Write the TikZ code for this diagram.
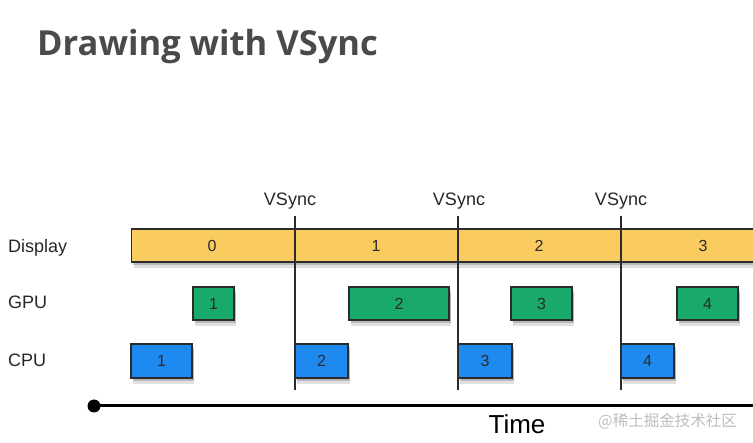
\documentclass[tikz,border=0pt]{standalone}
\usepackage{fontspec}
\setmainfont{Liberation Sans}
\newfontfamily\titlefont{Open Sans}
\newfontfamily\cjk{Noto Sans CJK SC}
\usetikzlibrary{shadows,positioning}
\definecolor{dispfill}{HTML}{FACB5E}
\definecolor{gpufill}{HTML}{18A96B}
\definecolor{cpufill}{HTML}{1E8AF0}
\definecolor{edge}{HTML}{2B2B2B}
\definecolor{titlegray}{HTML}{4A4A4A}
\definecolor{marklight}{HTML}{BDBDBD}
\tikzset{
  taskbox/.style={draw=edge, line width=1.2pt, inner sep=0pt,
    font=\fontsize{16}{16}\selectfont, text=edge,
    general shadow={shadow xshift=2pt, shadow yshift=-6pt, opacity=0.12, fill=black},
    drop shadow={shadow xshift=1.5pt, shadow yshift=-3.5pt, opacity=0.18, fill=black}},
  dispbox/.style={taskbox, fill=dispfill, minimum height=33pt},
  gpubox/.style={taskbox, fill=gpufill, minimum height=33pt},
  cpubox/.style={taskbox, fill=cpufill, minimum height=34pt},
  rowlabel/.style={anchor=base west, inner sep=0pt, font=\fontsize{18}{18}\selectfont, text=black!85},
  synclabel/.style={anchor=base, font=\fontsize{18}{18}\selectfont, text=black!85},
  syncline/.style={draw=edge, line width=1.2pt},
  framenum/.style={font=\fontsize{16}{16}\selectfont, text=edge}
}

\begin{document}
\begin{tikzpicture}[x=1pt,y=-1pt]
  \useasboundingbox (0,0) rectangle (753,443);
  % title
  \node[anchor=base west, inner sep=0pt, font=\titlefont\bfseries\fontsize{34.5}{34.5}\selectfont, text=titlegray]
    (title) at (37,56) {Drawing with VSync};
  % row labels
  \node[rowlabel] (lbldisp) at (8,253) {Display};
  \node[rowlabel] (lblgpu) at (8,309) {GPU};
  \node[rowlabel] (lblcpu) at (8,367) {CPU};
  % display bar
  \node[dispbox, anchor=west, minimum width=660pt] (dispbar) at (131,245.5) {};
  \foreach \n/\x in {0/212,1/376,2/539,3/703}
    \node[framenum] (disp\n) at (\x,245.5) {\n};
  % gpu and cpu frames
  \foreach \n/\x/\w in {1/213.5/41, 2/399/100, 3/541.5/61, 4/707.5/61}
    \node[gpubox, minimum width=\w pt] (gpu\n) at (\x,303.5) {\n};
  \foreach \n/\x/\w in {1/161.5/61, 2/321.5/53, 3/485/54, 4/647.5/53}
    \node[cpubox, minimum width=\w pt] (cpu\n) at (\x,361) {\n};
  % vsync markers
  \foreach \n/\x/\lx in {1/295/290, 2/458/459, 3/621/621} {
    \coordinate (vtop\n) at (\x,216);
    \coordinate (vbot\n) at (\x,390);
    \draw[syncline] (vtop\n) -- (vbot\n);
    \node[synclabel] (vsync\n) at (\lx,206) {VSync};
  }
  % time axis
  \node[circle, fill=black, inner sep=0pt, minimum size=13pt] (tstart) at (94,406) {};
  \coordinate (tend) at (760,406);
  \draw[line width=3pt] (tstart.center) -- (tend);
  \node[anchor=base, font=\fontsize{26}{26}\selectfont] (timelbl) at (517,434) {Time};
  \node[anchor=base west, inner sep=0pt, font=\cjk\fontsize{15.5}{15.5}\selectfont, text=marklight]
    (mark) at (598,427) {@稀土掘金技术社区};
\end{tikzpicture}
\end{document}
